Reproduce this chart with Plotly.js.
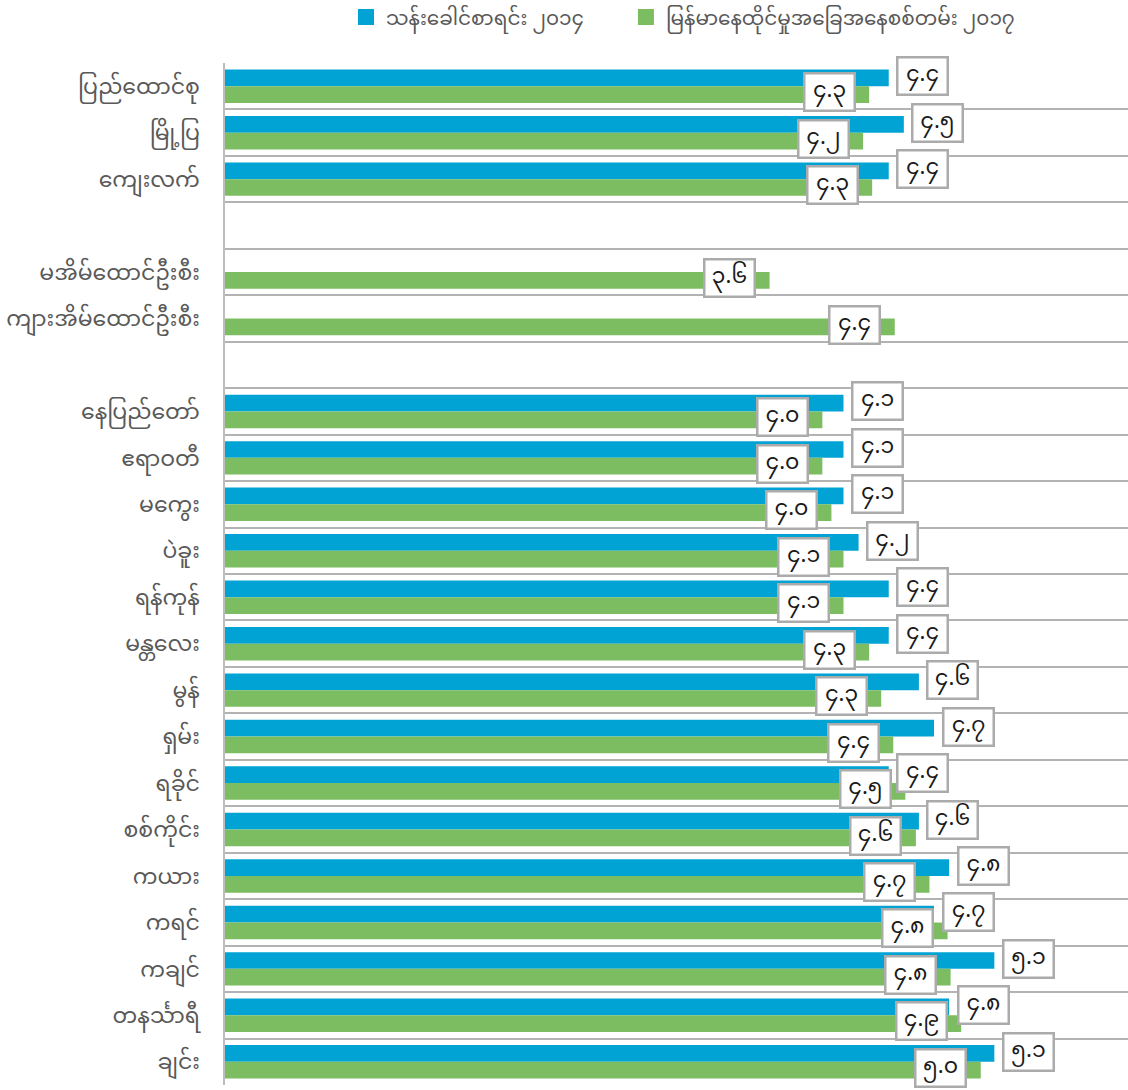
<!DOCTYPE html>
<html>
<head>
<meta charset="utf-8">
<script src="https://cdn.plot.ly/plotly-3.0.1.min.js"></script>
<style>
  html, body { margin: 0; padding: 0; background: #ffffff; }
  #chart { width: 1128px; height: 1090px; }
</style>
</head>
<body>
<div id="chart"></div>
<script>
// ---- data ----
const categories = [
  "ပြည်ထောင်စု", "မြို့ပြ", "ကျေးလက်", " ",
  "မအိမ်ထောင်ဦးစီး", "ကျားအိမ်ထောင်ဦးစီး", "  ",
  "နေပြည်တော်", "ဧရာဝတီ", "မကွေး", "ပဲခူး", "ရန်ကုန်", "မန္တလေး", "မွန်",
  "ရှမ်း", "ရခိုင်", "စစ်ကိုင်း", "ကယား", "ကရင်", "ကချင်", "တနင်္သာရီ", "ချင်း"
];
const seriesNames = ["သန်းခေါင်စာရင်း ၂၀၁၄", "မြန်မာနေထိုင်မှုအခြေအနေစစ်တမ်း ၂၀၁၇"];
const census2014 = [
  4.4, 4.5, 4.4, null,
  null, null, null,
  4.1, 4.1, 4.1, 4.2, 4.4, 4.4, 4.6,
  4.7, 4.4, 4.6, 4.8, 4.7, 5.1, 4.8, 5.1
];
const survey2017 = [
  4.27, 4.23, 4.29, null,
  3.61, 4.44, null,
  3.96, 3.96, 4.02, 4.10, 4.10, 4.27, 4.35,
  4.43, 4.51, 4.58, 4.67, 4.79, 4.81, 4.88, 5.01
];
const colors = ["#00A3D3", "#7DBD62"];

// ---- helpers ----
const MM_DIGITS = "၀၁၂၃၄၅၆၇၈၉";
function toMyanmar(v) {
  return v.toFixed(1).replace(/[0-9]/g, d => MM_DIGITS[+d]);
}

const MYFONT = "'Noto Sans Myanmar', 'Padauk', 'Myanmar Text', 'Noto Sans', sans-serif";

const traces = [census2014, survey2017].map((vals, k) => ({
  type: "bar",
  orientation: "h",
  y: categories,
  x: vals,
  name: seriesNames[k],
  legendgroup: "g" + k,
  showlegend: false,
  marker: { color: colors[k], line: { width: 0 } },
  hoverinfo: "x+y"
}));

// legend proxies (square swatches), one legend box per series
[0, 1].forEach(k => {
  traces.push({
    type: "scatter", mode: "markers",
    x: [null], y: [categories[0]],
    name: seriesNames[k],
    legendgroup: "g" + k,
    legend: k === 0 ? "legend" : "legend2",
    marker: { symbol: "square", size: 16, color: colors[k], line: { width: 0 } },
    hoverinfo: "skip"
  });
});

// value labels
const annotations = [];
const labelStyle = [
  { dx: 34, dy: 10 },   // census: right of bar end, raised
  { dx: -40, dy: -6 }   // survey: over bar end, lowered
];
[census2014, survey2017].forEach((vals, k) => {
  vals.forEach((v, i) => {
    if (v === null) return;
    annotations.push({
      x: v, y: categories[i], xref: "x", yref: "y",
      text: toMyanmar(v),
      showarrow: false,
      xanchor: "center", yanchor: "middle",
      xshift: labelStyle[k].dx, yshift: labelStyle[k].dy,
      bgcolor: "#ffffff",
      bordercolor: "#ababab",
      borderwidth: 2.5,
      borderpad: 0,
      width: 48, height: 35,
      font: { family: MYFONT, size: 22, color: "#1a1a1a" }
    });
  });
});

const legendBase = {
  orientation: "h",
  xanchor: "left",
  y: 1.045, yanchor: "middle",
  font: { family: MYFONT, size: 20, color: "#595959" },
  bgcolor: "rgba(0,0,0,0)"
};

const layout = {
  width: 1128, height: 1090,
  margin: { l: 225, r: 0, t: 63, b: 5, pad: 0, autoexpand: false },
  paper_bgcolor: "#ffffff", plot_bgcolor: "#ffffff",
  barmode: "group",
  bargap: 0.28,
  bargroupgap: 0,
  showlegend: true,
  legend: Object.assign({}, legendBase, { x: 0.134 }),
  legend2: Object.assign({}, legendBase, { x: 0.444 }),
  xaxis: {
    range: [0, 5.986],
    showgrid: false, zeroline: false,
    showticklabels: false, ticks: "",
    showline: false,
    fixedrange: true
  },
  yaxis: {
    type: "category",
    categoryorder: "array",
    categoryarray: categories,
    range: [categories.length - 0.5, -0.5],
    tickson: "boundaries",
    showgrid: true,
    gridcolor: "#b3b3b3",
    gridwidth: 1.5,
    ticks: "",
    showline: true,
    linecolor: "#bdbdbd",
    linewidth: 1.5,
    ticklabelstandoff: 19,
    tickfont: { family: MYFONT, size: 22, color: "#595959" },
    fixedrange: true
  },
  annotations: annotations
};

Plotly.newPlot("chart", traces, layout, { displayModeBar: false });
</script>
</body>
</html>
